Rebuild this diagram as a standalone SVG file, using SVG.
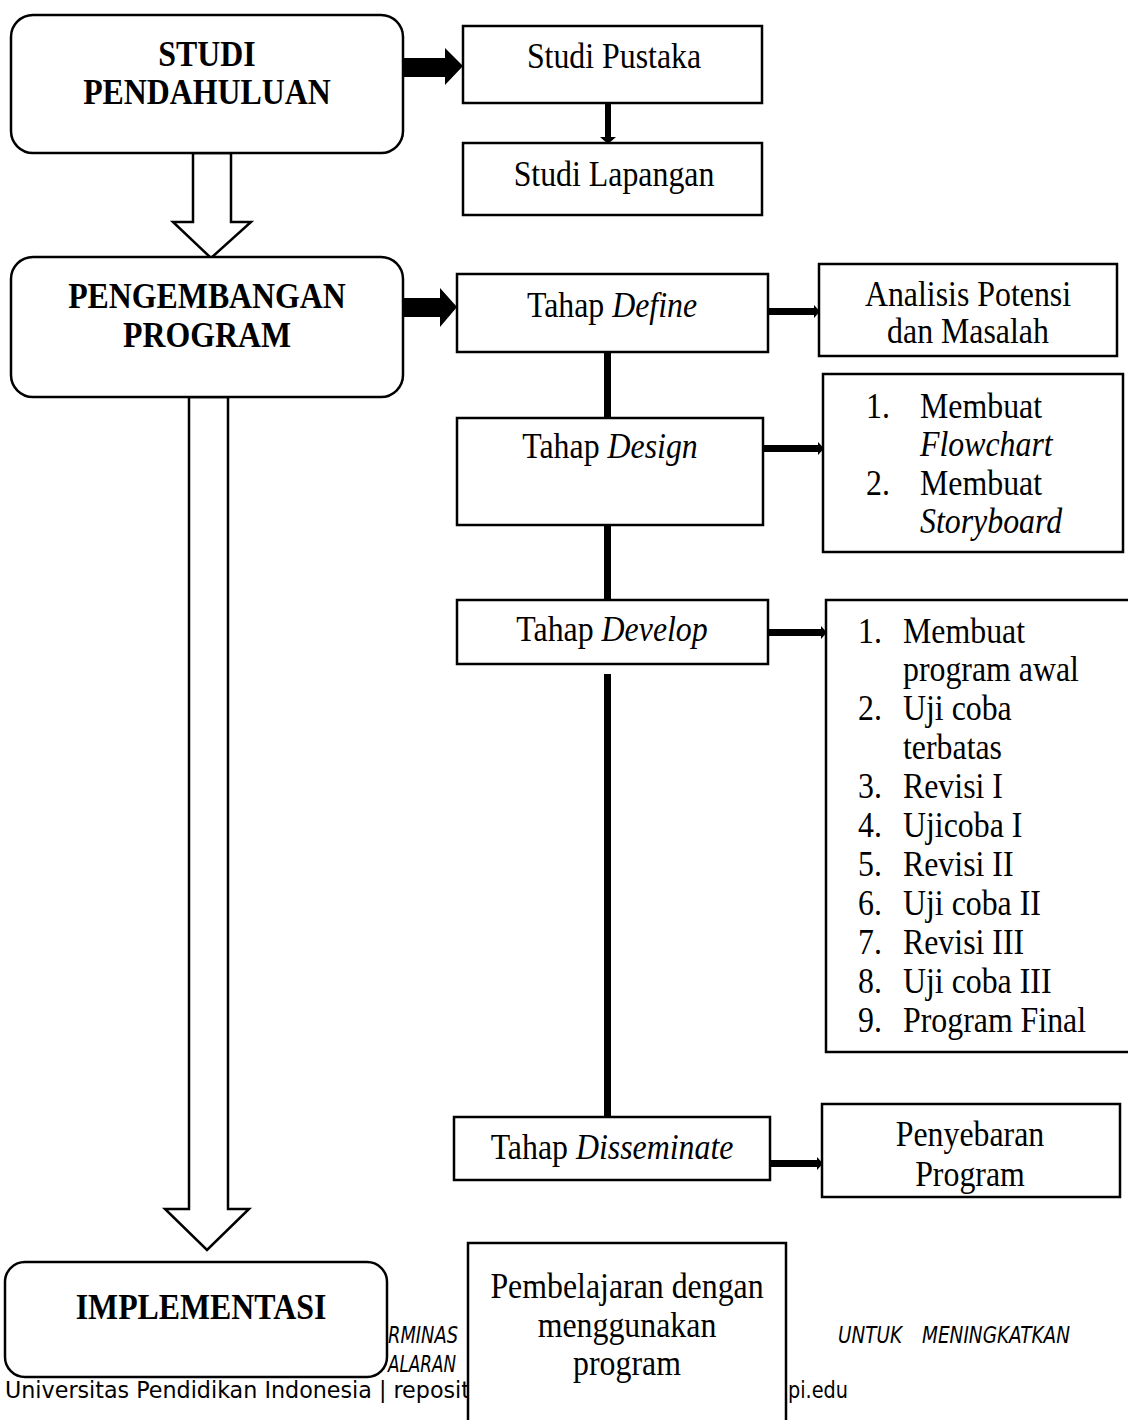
<svg xmlns="http://www.w3.org/2000/svg" width="1128" height="1420" viewBox="0 0 1128 1420">
<style>
.box{fill:#fff;stroke:#000;stroke-width:2.5}
.t{font-family:"Liberation Serif","Times New Roman",serif;font-size:35px;fill:#000}
.tc{text-anchor:middle}
.b{font-weight:bold}
.i{font-style:italic}
.blk{fill:#000;stroke:none}
.hol{fill:#fff;stroke:#000;stroke-width:2.5;stroke-linejoin:miter}
.ft{font-family:"DejaVu Sans Condensed","DejaVu Sans",sans-serif;font-size:23px;fill:#000}
</style>
<rect width="1128" height="1420" fill="#fff"/>
<g id="footer">
<text class="ft i" x="388" y="1343" textLength="70" lengthAdjust="spacingAndGlyphs">RMINAS</text>
<text class="ft i" x="388" y="1372" textLength="68" lengthAdjust="spacingAndGlyphs">ALARAN</text>
<text class="ft i" x="838" y="1343" textLength="64" lengthAdjust="spacingAndGlyphs">UNTUK</text>
<text class="ft i" x="922" y="1343" textLength="148" lengthAdjust="spacingAndGlyphs">MENINGKATKAN</text>
<text class="ft" x="5" y="1398" textLength="465" lengthAdjust="spacingAndGlyphs">Universitas Pendidikan Indonesia | reposit</text>
<text class="ft" x="788" y="1398" textLength="60" lengthAdjust="spacingAndGlyphs">pi.edu</text>
</g>
<g id="connectors">
<polygon class="blk" points="403,58 445,58 445,48 463,66 445,85 445,77 403,77"/>
<polygon class="blk" points="605,103 611,103 611,137 616,137 608,144 600,137 605,137"/>
<polygon class="hol" points="193,153 231,153 231,222 251,222 211,258 173,222 193,222"/>
<polygon class="blk" points="403,298 440,298 440,288 457,307 440,327 440,317 403,317"/>
<polygon class="hol" points="189,397 228,397 228,1209 249,1209 207,1250 165,1209 189,1209"/>
<rect class="blk" x="604" y="352" width="7" height="66"/>
<rect class="blk" x="604" y="525" width="7" height="75"/>
<rect class="blk" x="604" y="674" width="7" height="443"/>
<rect class="blk" x="768" y="308" width="47" height="7"/>
<polygon class="blk" points="814,305 820,311.5 814,318"/>
<rect class="blk" x="763" y="445" width="56" height="7"/>
<polygon class="blk" points="818,442 824,448.5 818,455"/>
<rect class="blk" x="768" y="629" width="54" height="7"/>
<polygon class="blk" points="821,626 827,632.5 821,639"/>
<rect class="blk" x="770" y="1160" width="48" height="7"/>
<polygon class="blk" points="817,1157 823,1163.5 817,1170"/>
</g>
<g id="studi-pendahuluan">
<rect class="box" x="11" y="15" width="392" height="138" rx="22"/>
<text class="t tc b" transform="translate(207,66) scale(0.91,1)">STUDI</text>
<text class="t tc b" transform="translate(207,104) scale(0.91,1)">PENDAHULUAN</text>
</g>
<g id="studi-pustaka">
<rect class="box" x="463" y="26" width="299" height="77"/>
<text class="t tc" transform="translate(614,68) scale(0.91,1)">Studi Pustaka</text>
</g>
<g id="studi-lapangan">
<rect class="box" x="463" y="143" width="299" height="72"/>
<text class="t tc" transform="translate(614,186) scale(0.91,1)">Studi Lapangan</text>
</g>
<g id="pengembangan-program">
<rect class="box" x="11" y="257" width="392" height="140" rx="22"/>
<text class="t tc b" transform="translate(207,308) scale(0.91,1)">PENGEMBANGAN</text>
<text class="t tc b" transform="translate(207,347) scale(0.91,1)">PROGRAM</text>
</g>
<g id="tahap-define">
<rect class="box" x="457" y="274" width="311" height="78"/>
<text class="t tc" transform="translate(612,317) scale(0.91,1)">Tahap <tspan class="i">Define</tspan></text>
</g>
<g id="analisis">
<rect class="box" x="819" y="264" width="298" height="92"/>
<text class="t tc" transform="translate(968,306) scale(0.91,1)">Analisis Potensi</text>
<text class="t tc" transform="translate(968,343) scale(0.91,1)">dan Masalah</text>
</g>
<g id="tahap-design">
<rect class="box" x="457" y="418" width="306" height="107"/>
<text class="t tc" transform="translate(610,458) scale(0.91,1)">Tahap <tspan class="i">Design</tspan></text>
</g>
<g id="design-list">
<rect class="box" x="823" y="374" width="300" height="178"/>
<text class="t" transform="translate(866,418) scale(0.91,1)">1.</text><text class="t" transform="translate(920,418) scale(0.91,1)">Membuat</text>
<text class="t i" transform="translate(920,456) scale(0.91,1)">Flowchart</text>
<text class="t" transform="translate(866,495) scale(0.91,1)">2.</text><text class="t" transform="translate(920,495) scale(0.91,1)">Membuat</text>
<text class="t i" transform="translate(920,533) scale(0.91,1)">Storyboard</text>
</g>
<g id="tahap-develop">
<rect class="box" x="457" y="600" width="311" height="64"/>
<text class="t tc" transform="translate(612,641) scale(0.91,1)">Tahap <tspan class="i">Develop</tspan></text>
</g>
<g id="develop-list">
<rect class="box" x="826" y="600" width="310" height="452"/>
<text class="t" transform="translate(858,643) scale(0.91,1)">1.</text><text class="t" transform="translate(903,643) scale(0.91,1)">Membuat</text>
<text class="t" transform="translate(903,681) scale(0.91,1)">program awal</text>
<text class="t" transform="translate(858,720) scale(0.91,1)">2.</text><text class="t" transform="translate(903,720) scale(0.91,1)">Uji coba</text>
<text class="t" transform="translate(903,759) scale(0.91,1)">terbatas</text>
<text class="t" transform="translate(858,798) scale(0.91,1)">3.</text><text class="t" transform="translate(903,798) scale(0.91,1)">Revisi I</text>
<text class="t" transform="translate(858,837) scale(0.91,1)">4.</text><text class="t" transform="translate(903,837) scale(0.91,1)">Ujicoba I</text>
<text class="t" transform="translate(858,876) scale(0.91,1)">5.</text><text class="t" transform="translate(903,876) scale(0.91,1)">Revisi II</text>
<text class="t" transform="translate(858,915) scale(0.91,1)">6.</text><text class="t" transform="translate(903,915) scale(0.91,1)">Uji coba II</text>
<text class="t" transform="translate(858,954) scale(0.91,1)">7.</text><text class="t" transform="translate(903,954) scale(0.91,1)">Revisi III</text>
<text class="t" transform="translate(858,993) scale(0.91,1)">8.</text><text class="t" transform="translate(903,993) scale(0.91,1)">Uji coba III</text>
<text class="t" transform="translate(858,1032) scale(0.91,1)">9.</text><text class="t" transform="translate(903,1032) scale(0.91,1)">Program Final</text>
</g>
<g id="tahap-disseminate">
<rect class="box" x="454" y="1117" width="316" height="63"/>
<text class="t tc" transform="translate(612,1159) scale(0.91,1)">Tahap <tspan class="i">Disseminate</tspan></text>
</g>
<g id="penyebaran">
<rect class="box" x="822" y="1104" width="298" height="93"/>
<text class="t tc" transform="translate(970,1146) scale(0.91,1)">Penyebaran</text>
<text class="t tc" transform="translate(970,1186) scale(0.91,1)">Program</text>
</g>
<g id="implementasi">
<rect class="box" x="5" y="1262" width="382" height="115" rx="20"/>
<text class="t tc b" transform="translate(201,1319) scale(0.91,1)">IMPLEMENTASI</text>
</g>
<g id="pembelajaran">
<rect class="box" x="468" y="1243" width="318" height="190"/>
<text class="t tc" transform="translate(627,1298) scale(0.91,1)">Pembelajaran dengan</text>
<text class="t tc" transform="translate(627,1337) scale(0.91,1)">menggunakan</text>
<text class="t tc" transform="translate(627,1375) scale(0.91,1)">program</text>
</g>
</svg>
